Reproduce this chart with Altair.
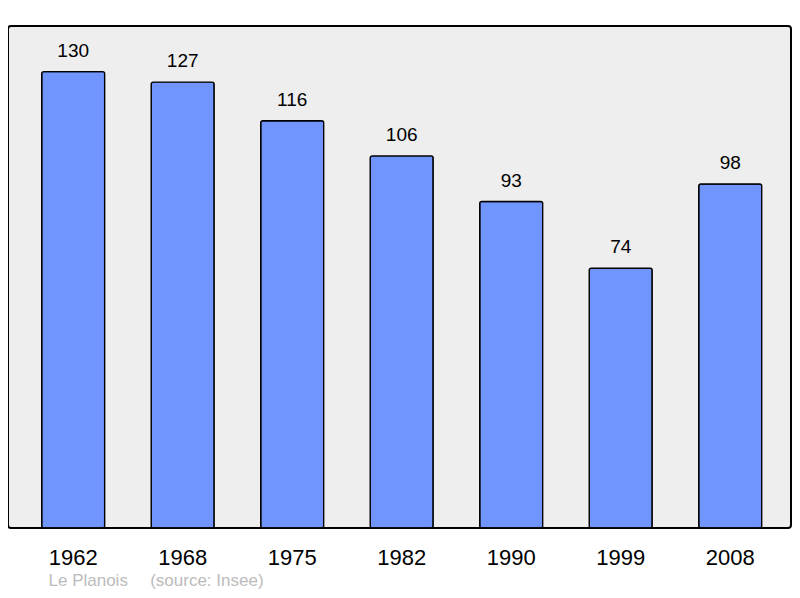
import altair as alt
import pandas as pd

years = ["1962", "1968", "1975", "1982", "1990", "1999", "2008"]
population = [130, 127, 116, 106, 93, 74, 98]

df = pd.DataFrame({"year": years, "pop": population})

FONT = "Liberation Sans"

x = alt.X(
    "year:N",
    sort=years,
    scale=alt.Scale(range=[33.7, 753.7], paddingInner=0.425, paddingOuter=0),
    axis=alt.Axis(
        title="Le Planois\u00a0\u00a0\u00a0\u2009 (source: Insee)",
        titleFont=FONT,
        titleFontSize=17,
        titleFontWeight="normal",
        titleColor="#BBBBBB",
        titleAnchor="start",
        titleAlign="left",
        titleBaseline="alphabetic",
        titleX=40,
        titleY=57,
        labelFont=FONT,
        labelFontSize=22,
        labelColor="#000000",
        labelBaseline="alphabetic",
        labelPadding=36,
        labelAngle=0,
        ticks=False,
        domain=False,
        grid=False,
    ),
)
y = alt.Y("pop:Q", scale=alt.Scale(domain=[0, 143], nice=False), axis=None)

bars = alt.Chart(df).mark_bar(
    color="#7195FF", stroke="#000000", strokeWidth=1.4, cornerRadius=2
).encode(x=x, y=y)

labels = alt.Chart(df).mark_text(
    baseline="alphabetic", dy=-15, font=FONT, fontSize=19, color="#000000"
).encode(x=x, y=y, text="pop:Q")

chart = (
    alt.layer(bars, labels)
    .properties(
        width=783,
        height=502,
        autosize=alt.AutoSizeParams(type="none"),
        padding={"left": 0, "top": 18, "right": 1, "bottom": 62},
    )
    .configure_view(fill="#EEEEEE", stroke="#000000", strokeWidth=2, cornerRadius=3)
)

chart.save("out.html", embed_options={"renderer": "svg", "actions": False})
